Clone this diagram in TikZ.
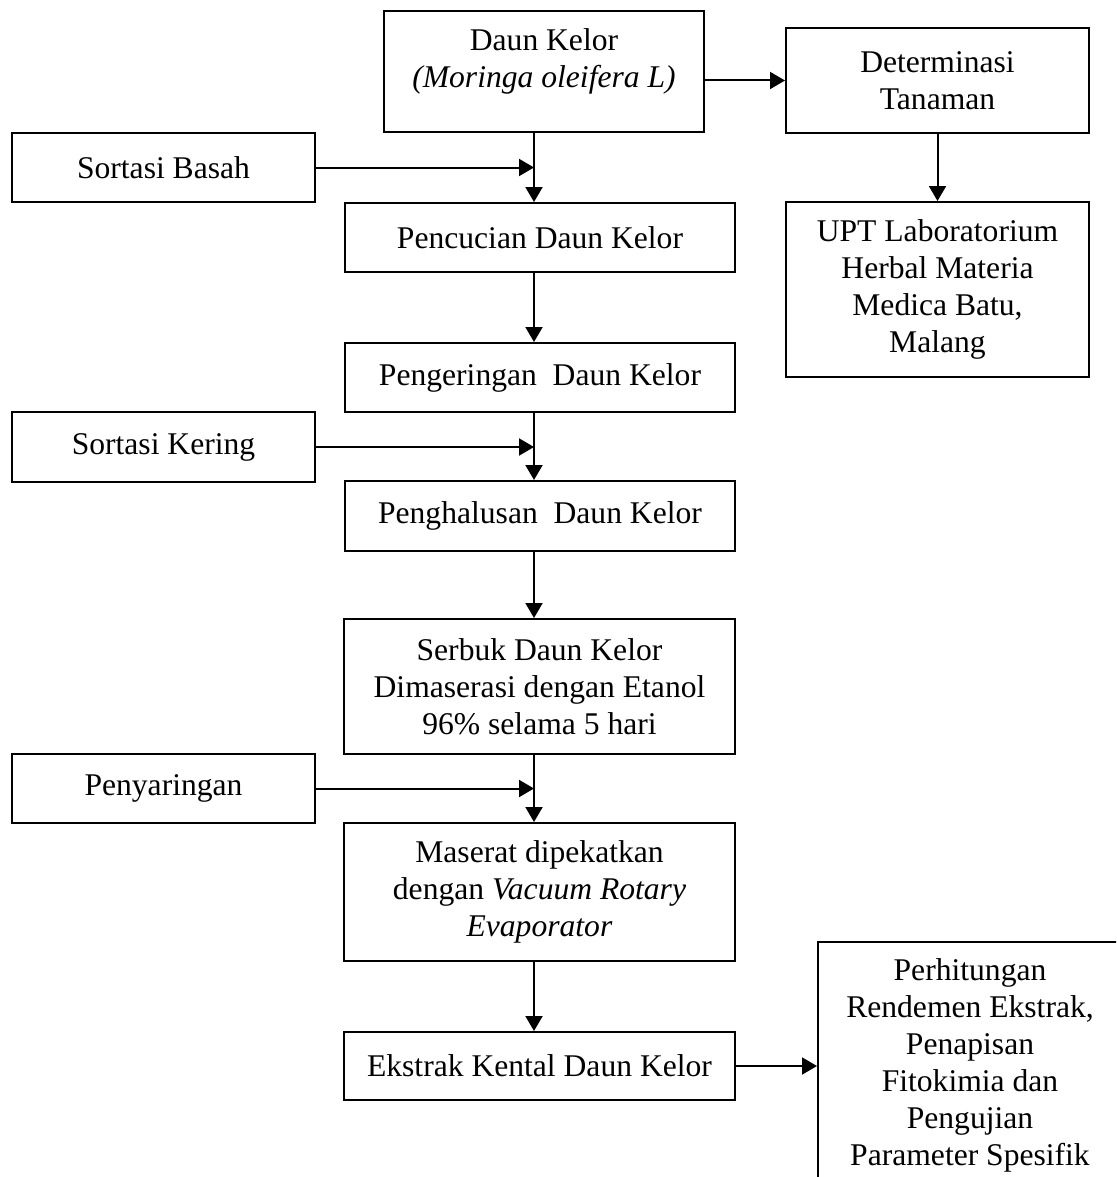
\documentclass[tikz,border=0pt]{standalone}
\usepackage{fontspec}
\setmainfont{Liberation Serif}
\usetikzlibrary{arrows.meta}
\begin{document}
\begin{tikzpicture}[x=0.5pt,y=-0.5pt,
  box/.style={draw, line width=1pt, inner sep=0pt, align=center,
    font=\fontsize{15.8pt}{18.5pt}\selectfont},
  arr/.style={line width=1pt, -{Triangle[length=7.5pt,width=8.5pt]}}]
\path[use as bounding box, clip] (0,0) rectangle (1116,1177);

% vertical axis of the main process chain
\coordinate (spine) at (534,0);

% main process chain
\node[box, minimum width=160pt, minimum height=60.5pt, text depth=13.5pt] (daun) at (544,71.5)
  {Daun Kelor\\\textit{(Moringa oleifera L)}};
\node[box, minimum width=195pt, minimum height=34.5pt] (pencucian) at (540,237.5) {Pencucian Daun Kelor};
\node[box, minimum width=195pt, minimum height=34.5pt] (pengeringan) at (540,377.5) {Pengeringan\ \ Daun Kelor};
\node[box, minimum width=195pt, minimum height=35pt] (penghalusan) at (540,516) {Penghalusan\ \ Daun Kelor};
\node[box, minimum width=195.5pt, minimum height=67.5pt] (serbuk) at (539.5,686.5)
  {Serbuk Daun Kelor\\Dimaserasi dengan Etanol\\96\% selama 5 hari};
\node[box, minimum width=195.5pt, minimum height=69pt] (maserat) at (539.5,892)
  {Maserat dipekatkan\\dengan \textit{Vacuum Rotary}\\\textit{Evaporator}};
\node[box, minimum width=195.5pt, minimum height=34pt] (ekstrak) at (539.5,1066) {Ekstrak Kental Daun Kelor};

% side inputs
\node[box, minimum width=151.5pt, minimum height=34.5pt] (sbasah) at (163.5,167.5) {Sortasi Basah};
\node[box, minimum width=151.5pt, minimum height=35pt] (skering) at (163.5,447) {Sortasi Kering};
\node[box, minimum width=151.5pt, minimum height=34.5pt] (penyaringan) at (163.5,788.5) {Penyaringan};

% plant identification branch
\node[box, minimum width=151.5pt, minimum height=52.5pt] (determinasi) at (937.5,80.5) {Determinasi\\Tanaman};
\node[box, minimum width=151.5pt, minimum height=87.5pt] (upt) at (937.5,289.5)
  {UPT Laboratorium\\Herbal Materia\\Medica Batu,\\Malang};

% final analyses
\node[box, minimum width=152pt, minimum height=123pt] (perhitungan) at (970,1065)
  {Perhitungan\\Rendemen Ekstrak,\\Penapisan\\Fitokimia dan\\Pengujian\\Parameter Spesifik};

% connectors along the main chain
\draw[arr] (daun.south -| spine) -- (pencucian.north -| spine);
\draw[arr] (pencucian.south -| spine) -- (pengeringan.north -| spine);
\draw[arr] (pengeringan.south -| spine) -- (penghalusan.north -| spine);
\draw[arr] (penghalusan.south -| spine) -- (serbuk.north -| spine);
\draw[arr] (serbuk.south -| spine) -- (maserat.north -| spine);
\draw[arr] (maserat.south -| spine) -- (ekstrak.north -| spine);

% side inputs joining the chain
\draw[arr] (sbasah.east) -- (sbasah.east -| spine);
\draw[arr] (skering.east) -- (skering.east -| spine);
\draw[arr] (penyaringan.east) -- (penyaringan.east -| spine);

% branches to the right
\draw[arr] (determinasi.west -| daun.east) -- (determinasi.west);
\draw[arr] (determinasi.south) -- (upt.north);
\draw[arr] (ekstrak.east) -- (ekstrak.east -| perhitungan.west);
\end{tikzpicture}
\end{document}
